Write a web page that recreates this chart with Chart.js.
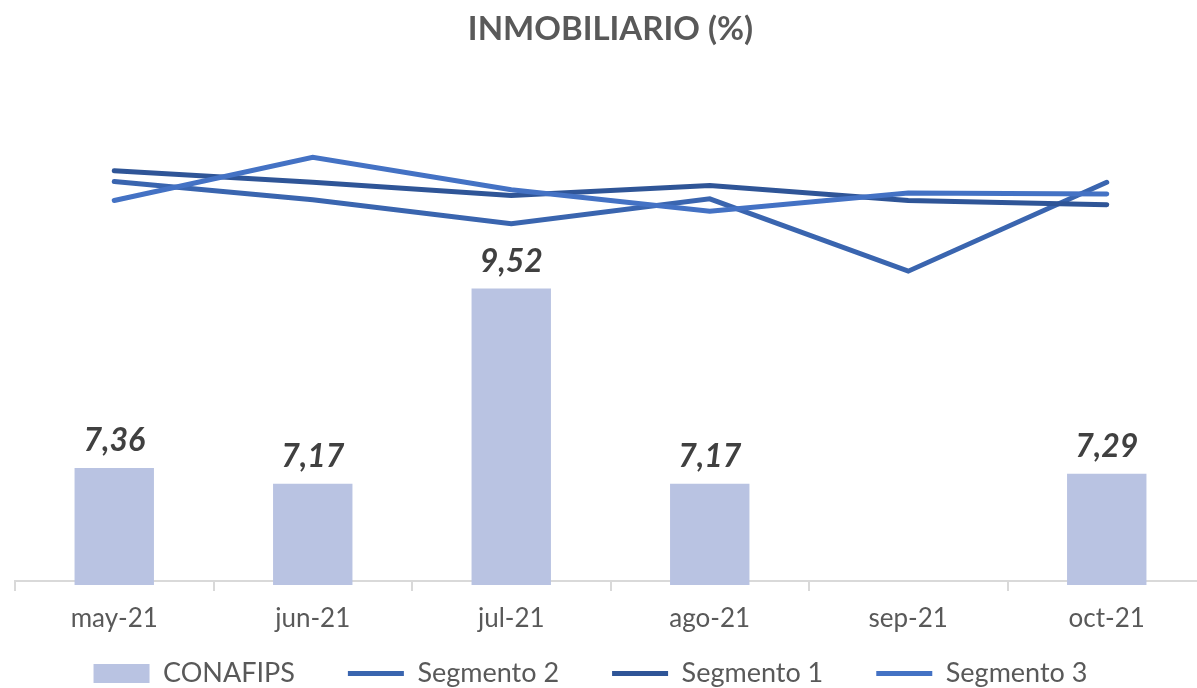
<!DOCTYPE html>
<html>
<head>
<meta charset="utf-8">
<script src="https://cdn.jsdelivr.net/npm/chart.js@4/dist/chart.umd.min.js"></script>
<style>
  html, body { margin: 0; padding: 0; background: #fff; overflow: hidden; }
  #wrap { width: 1250px; height: 688px; }
</style>
</head>
<body>
<div id="wrap"><canvas id="chart"></canvas></div>
<script>
// datos
const meses = ["may-21", "jun-21", "jul-21", "ago-21", "sep-21", "oct-21"];
const conafips = [7.36, 7.17, 9.52, 7.17, 0, 7.29];
const segmento2 = [10.81, 10.59, 10.30, 10.60, 9.73, 10.80];
const segmento1 = [10.94, 10.80, 10.64, 10.76, 10.58, 10.53];
const segmento3 = [10.58, 11.10, 10.71, 10.45, 10.67, 10.66];
const ejeMin = 6;
const ejeMax = 12;

const fuente = "Lato, 'Open Sans', sans-serif";

// etiquetas encima de las barras (solo las que caen dentro del eje)
const etiquetasBarras = {
  id: "etiquetasBarras",
  afterDatasetsDraw(chart) {
    const ctx = chart.ctx;
    const meta = chart.getDatasetMeta(0);
    ctx.save();
    ctx.font = "italic bold 32px " + fuente;
    ctx.fillStyle = "#404040";
    ctx.textAlign = "center";
    ctx.textBaseline = "alphabetic";
    meta.data.forEach((bar, i) => {
      const v = conafips[i];
      if (v < ejeMin) return;
      ctx.fillText(v.toFixed(2).replace(".", ","), bar.x, bar.y - 17);
    });
    ctx.restore();
  }
};

// la leyenda va un poco a la izquierda, como en el original
const moverLeyenda = {
  id: "moverLeyenda",
  afterLayout(chart) {
    if (!chart.legend) return;
    chart.legend.left -= 20;
    chart.legend.right -= 20;
  }
};

const lineaComun = {
  type: "line",
  borderWidth: 5,
  borderCapStyle: "round",
  borderJoinStyle: "miter",
  pointRadius: 0,
  tension: 0,
  fill: false,
  pointStyle: "line"
};

new Chart(document.getElementById("chart"), {
  data: {
    labels: meses,
    datasets: [
      {
        type: "bar",
        label: "CONAFIPS",
        data: conafips,
        backgroundColor: "#B9C3E2",
        borderWidth: 0,
        barPercentage: 0.4,
        categoryPercentage: 1,
        pointStyle: "rect",
        clip: { left: 0, top: 0, right: 0, bottom: 4 },
        order: 4
      },
      Object.assign({}, lineaComun, { label: "Segmento 2", data: segmento2, borderColor: "#3A65AF", backgroundColor: "#3A65AF", order: 3 }),
      Object.assign({}, lineaComun, { label: "Segmento 1", data: segmento1, borderColor: "#2F5597", backgroundColor: "#2F5597", order: 2 }),
      Object.assign({}, lineaComun, { label: "Segmento 3", data: segmento3, borderColor: "#4472C4", backgroundColor: "#4472C4", order: 1 })
    ]
  },
  options: {
    responsive: true,
    maintainAspectRatio: false,
    animation: false,
    layout: { padding: { left: 15, right: 44, top: 4, bottom: -9 } },
    plugins: {
      title: {
        display: true,
        text: "INMOBILIARIO (%)",
        color: "#595959",
        font: { family: fuente, size: 33, weight: "bold" },
        padding: { top: 6, bottom: 33 }
      },
      legend: {
        position: "bottom",
        labels: {
          usePointStyle: true,
          pointStyleWidth: 56,
          boxHeight: 19,
          color: "#595959",
          font: { family: fuente, size: 27 },
          padding: 53,
          sort: (a, b) => a.datasetIndex - b.datasetIndex
        }
      },
      tooltip: { enabled: false }
    },
    scales: {
      x: {
        offset: true,
        // el eje se deja solapar con el relleno superior de la leyenda
        afterFit(scale) {
          scale.height = 26;
          scale._computeLabelArea = () => undefined;
        },
        grid: {
          offset: true,
          drawOnChartArea: false,
          drawTicks: true,
          tickLength: 10,
          color: "#D9D9D9",
          lineWidth: 2
        },
        border: { display: true, color: "#D9D9D9", width: 2 },
        ticks: {
          color: "#595959",
          font: { family: fuente, size: 26 },
          padding: 12
        }
      },
      y: {
        display: false,
        min: ejeMin,
        max: ejeMax
      }
    }
  },
  plugins: [etiquetasBarras, moverLeyenda]
});
</script>
</body>
</html>
